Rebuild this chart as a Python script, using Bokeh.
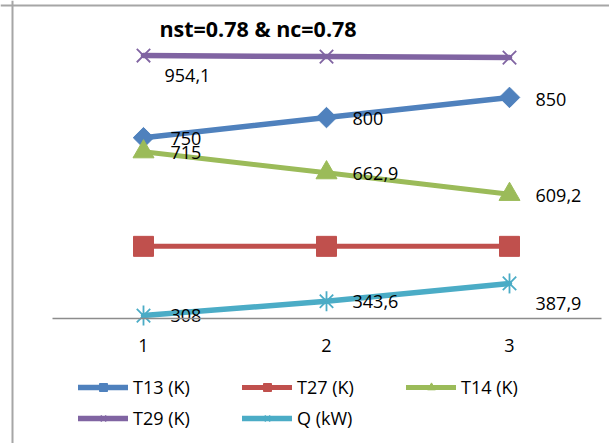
import math
from bokeh.plotting import figure
from bokeh.models import (Range1d, LinearAxis, FixedTicker, Span, Legend, LegendItem,
                          Label, ColumnDataSource)
from bokeh.core.properties import value
from bokeh.embed import file_html
from bokeh.resources import INLINE

# ---------------- data ----------------
categories = [1, 2, 3]
tick_labels = ["1", "2", "3"]
t13 = [750, 800, 850]
t27 = [480, 480, 480]
t14 = [715, 662.9, 609.2]
t29 = [954.1, 951.5, 949]
q_kw = [308, 343.6, 387.9]
series_names = ["T13 (K)", "T27 (K)", "T14 (K)", "T29 (K)", "Q (kW)"]
title_text = "nst=0.78 & nc=0.78"

# ---------------- layout / mapping ----------------
W, H = 609, 443
PX_PER_CAT = 183.0
CAT1_PX = 143.0
PX_PER_UNIT = 0.4025
AXIS_VAL = 300
AXIS_PX = 318.3

x_start = 1 - CAT1_PX / PX_PER_CAT
x_end = x_start + W / PX_PER_CAT
y_end = AXIS_VAL + AXIS_PX / PX_PER_UNIT
y_start = y_end - H / PX_PER_UNIT


def xd(px):
    return x_start + px / PX_PER_CAT


def yd(py):
    return y_end - py / PX_PER_UNIT


FONT = "Open Sans"

p = figure(width=W, height=H, output_backend="svg", toolbar_location=None,
           x_range=Range1d(x_start, x_end), y_range=Range1d(y_start, y_end),
           x_axis_location=None, y_axis_location=None, min_border=0)
p.outline_line_color = None
p.xgrid.visible = False
p.ygrid.visible = False
p.background_fill_color = "white"
p.border_fill_color = "white"

# outer chart border (top and left edges visible)
p.add_layout(Span(location=xd(12), dimension="height", line_color="#a6a6a6", line_width=2))
p.add_layout(Span(location=yd(5), dimension="width", line_color="#a6a6a6", line_width=2))

# category axis at value 300
xaxis = LinearAxis(fixed_location=AXIS_VAL, ticker=FixedTicker(ticks=categories),
                   bounds=(0.5, 3.5))
xaxis.major_label_overrides = {float(c): t for c, t in zip(categories, tick_labels)}
xaxis.axis_line_color = "#8c8c8c"
xaxis.axis_line_width = 1.5
xaxis.major_tick_line_color = None
xaxis.minor_tick_line_color = None
xaxis.major_tick_out = 0
xaxis.major_tick_in = 0
xaxis.major_label_standoff = 20
xaxis.major_label_text_font = FONT
xaxis.major_label_text_font_size = "18px"
xaxis.major_label_text_color = "black"
p.add_layout(xaxis, "below")

colors = ["#4F81BD", "#C0504D", "#9BBB59", "#8064A2", "#4BACC6"]
series = [t13, t27, t14, t29, q_kw]
widths = [5.5, 5, 5, 5.5, 5.5]

renderers = []
for vals, col, lw in zip(series, colors, widths):
    r = p.line(categories, vals, line_color=col, line_width=lw, line_cap="round",
               line_join="round")
    renderers.append([r])

# markers
renderers[0].append(p.scatter(categories, t13, marker="square", angle=math.pi / 4, size=14.5,
                              fill_color=colors[0], line_color=colors[0]))
renderers[1].append(p.scatter(categories, t27, marker="square", size=20,
                              fill_color=colors[1], line_color=colors[1]))
renderers[2].append(p.scatter(categories, t14, marker="triangle", size=21,
                              fill_color=colors[2], line_color=colors[2]))
renderers[3].append(p.scatter(categories, t29, marker="x", size=19,
                              line_color=colors[3], line_width=1.8))
renderers[4].append(p.scatter(categories, q_kw, marker="x", size=19,
                              line_color=colors[4], line_width=1.8))
renderers[4].append(p.scatter(categories, q_kw, marker="dash", angle=math.pi / 2, size=20,
                              line_color=colors[4], line_width=1.8))


def fmt(v):
    return f"{v:g}".replace(".", ",")


lab = dict(x=[], y=[], text=[], xo=[], yo=[])
label_spec = [
    (t13, [0, 1, 2], [(27, 1), (26, 1), (26, 2)]),
    (t14, [0, 1, 2], [(27, 1), (26, 1), (26, 1)]),
    (q_kw, [0, 1, 2], [(27, 0), (26, 0), (26, 20)]),
    (t29, [0], [(21, 20)]),
]
for vals, idxs, offs in label_spec:
    for i, (dx, dy) in zip(idxs, offs):
        lab["x"].append(categories[i])
        lab["y"].append(vals[i])
        lab["text"].append(fmt(vals[i]))
        lab["xo"].append(dx)
        lab["yo"].append(dy)
p.text(x="x", y="y", text="text", x_offset="xo", y_offset="yo",
       source=ColumnDataSource(lab), text_font=value(FONT), text_font_size="18px",
       text_color="black", text_align="left", text_baseline="middle")

# title
p.add_layout(Label(x=xd(257.5), y=yd(28), text=title_text, text_font=FONT,
                   text_font_size="21.5px", text_font_style="bold", text_color="black",
                   text_align="center", text_baseline="middle"))

# legends (two rows)
items = [LegendItem(label=n, renderers=r) for n, r in zip(series_names, renderers)]


def make_legend(its, loc):
    lg = Legend(items=its, orientation="horizontal", location=loc,
                glyph_width=50, glyph_height=20, label_standoff=5, label_width=109,
                label_height=20, spacing=0, padding=0, margin=0,
                label_text_font=FONT, label_text_font_size="18px", label_text_color="black",
                border_line_color=None, background_fill_alpha=0)
    return lg


p.add_layout(make_legend(items[:3], (78, 443 - 399)), "center")
p.add_layout(make_legend(items[3:], (78, 443 - 430)), "center")

open("out.html", "w").write(file_html(p, INLINE))
